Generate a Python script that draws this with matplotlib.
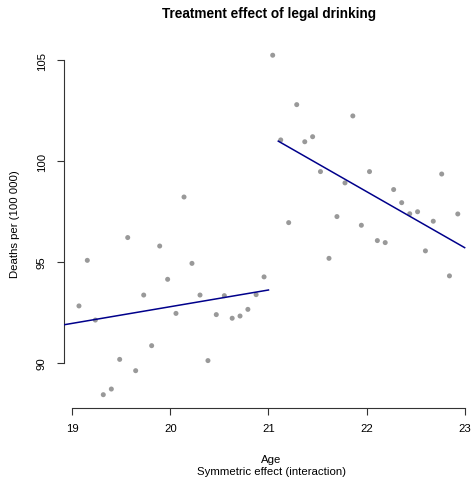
import matplotlib
matplotlib.use("Agg")
import matplotlib.pyplot as plt
import numpy as np

plt.rcParams['font.family'] = ['Liberation Sans', 'DejaVu Sans']

# Data
age_below = [19.068, 19.153, 19.235, 19.316, 19.398, 19.483, 19.565, 19.646, 19.728, 19.809,
             19.891, 19.972, 20.057, 20.139, 20.220, 20.302, 20.383, 20.468, 20.550, 20.630,
             20.710, 20.790, 20.874, 20.955]
deaths_below = [92.83, 95.09, 92.13, 88.43, 88.71, 90.18, 96.22, 89.62, 93.37, 90.86,
                95.80, 94.15, 92.46, 98.23, 94.94, 93.37, 90.12, 92.40, 93.34, 92.22,
                92.33, 92.66, 93.39, 94.27]
age_above = [21.043, 21.125, 21.206, 21.288, 21.370, 21.450, 21.530, 21.617, 21.698, 21.780,
             21.860, 21.947, 22.030, 22.110, 22.190, 22.276, 22.358, 22.440, 22.520, 22.600,
             22.680, 22.766, 22.845, 22.930]
deaths_above = [105.26, 101.06, 96.96, 102.81, 100.97, 101.22, 99.49, 95.19, 97.26, 98.93,
                102.25, 96.83, 99.49, 96.07, 95.97, 98.60, 97.95, 97.40, 97.50, 95.56,
                97.03, 99.37, 94.32, 97.39]

# Fitted lines (endpoints)
fit_below_x = [18.92, 21.0]
fit_below_y = [91.90, 93.62]
fit_above_x = [21.1, 23.0]
fit_above_y = [101.00, 95.72]

x_ticks = [19, 20, 21, 22, 23]
y_ticks = [90, 95, 100, 105]

W, H = 473, 481
fig = plt.figure(figsize=(W / 100, H / 100), dpi=100)
left_px, right_px, top_px, bottom_px = 64.45, 472.5, 42.7, 409.2
ax = fig.add_axes([left_px / W, 1 - bottom_px / H, (right_px - left_px) / W, (bottom_px - top_px) / H])

ax.scatter(age_below, deaths_below, s=13, color='#999999', edgecolors='none', zorder=2)
ax.scatter(age_above, deaths_above, s=13, color='#999999', edgecolors='none', zorder=2)
ax.plot(fit_below_x, fit_below_y, color='#00008B', lw=1.1, zorder=3)
ax.plot(fit_above_x, fit_above_y, color='#00008B', lw=1.1, zorder=3)

ax.set_xlim(18.92, 23.08)
ax.set_ylim(87.76, 105.93)

for s in ['top', 'right']:
    ax.spines[s].set_visible(False)
ax.spines['left'].set_bounds(90, 105)
ax.spines['bottom'].set_bounds(19, 23)
for s in ['left', 'bottom']:
    ax.spines[s].set_linewidth(0.8)
    ax.spines[s].set_color('#333333')

fs = 8.2
ax.set_xticks(x_ticks)
ax.set_xticklabels([str(t) for t in x_ticks])
ax.set_yticks(y_ticks)
ax.set_yticklabels([str(t) for t in y_ticks], rotation=90, va='center')
ax.tick_params(axis='both', direction='out', length=5.2, width=0.8, color='#333333', labelsize=fs)
ax.tick_params(axis='x', pad=5.5)
ax.tick_params(axis='y', pad=7.5)

fig.text(268.5 / W, 1 - 14 / H, 'Treatment effect of legal drinking', ha='center', va='center',
         fontsize=9.8, fontweight='bold')
fig.text(271 / W, 1 - 460 / H, 'Age', ha='center', va='center', fontsize=fs)
fig.text(271.5 / W, 1 - 472.5 / H, 'Symmetric effect (interaction)', ha='center', va='center', fontsize=fs)
fig.text(15 / W, 1 - 224.5 / H, 'Deaths per (100 000)', ha='center', va='center', fontsize=fs, rotation=90)

fig.savefig('out.png', dpi=100)
